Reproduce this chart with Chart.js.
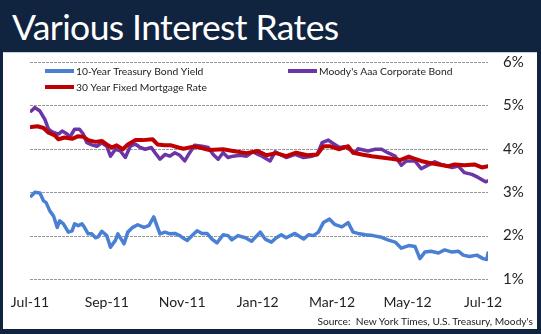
<!DOCTYPE html>
<html>
<head>
<meta charset="utf-8">
<script src="https://cdn.jsdelivr.net/npm/chart.js@4"></script>
<style>
  html, body { margin: 0; padding: 0; }
  body { width: 541px; height: 334px; background: #11243f; position: relative; overflow: hidden; font-family: Lato, "Open Sans", sans-serif; }
  .title { position: absolute; left: 12px; top: 5px; color: #fff; font-size: 35.5px; letter-spacing: -0.6px; white-space: nowrap; }
  .panel { position: absolute; left: 3px; top: 52px; width: 534px; height: 276px; background: #fff; border-top: 1px solid #c9d3e0; }
  .chart-box { position: absolute; left: 0; top: 0; width: 534px; height: 276px; }
  .source { position: absolute; right: 8px; top: 315px; font-size: 10.2px; color: #222; white-space: nowrap; }
</style>
</head>
<body>
<div class="title">Various Interest Rates</div>
<div class="panel">
  <div class="chart-box"><canvas id="chart"></canvas></div>
</div>
<div class="source">Source:&nbsp; New York Times, U.S. Treasury, Moody's</div>

<script>
// days since Jul 1, 2011
const monthTickDays = [0, 62, 123, 184, 244, 305, 366];
const monthTickLabels = ['Jul-11', 'Sep-11', 'Nov-11', 'Jan-12', 'Mar-12', 'May-12', 'Jul-12'];

const treasuryDays = [1, 4, 8, 11, 13, 16, 19, 22, 24, 27, 31, 34, 36, 39, 42, 44, 47, 50, 53, 55, 58, 62, 65, 69, 71, 76, 79, 83, 87, 92, 96, 100, 102, 105, 109, 113, 117, 121, 125, 127, 131, 135, 139, 143, 147, 151, 156, 160, 163, 168, 174, 179, 186, 190, 195, 199, 203, 207, 214, 221, 225, 229, 233, 237, 242, 246, 252, 257, 261, 265, 271, 277, 284, 289, 295, 300, 306, 311, 315, 319, 324, 330, 335, 341, 346, 350, 355, 361, 366, 369, 370];
const treasuryYield = [2.91, 3.00, 2.98, 2.80, 2.76, 2.57, 2.45, 2.19, 2.34, 2.27, 2.08, 2.11, 2.27, 2.23, 2.27, 2.19, 2.04, 2.04, 1.95, 1.97, 2.10, 2.00, 1.73, 1.89, 2.04, 1.81, 2.08, 2.19, 2.25, 2.19, 2.23, 2.43, 2.27, 2.04, 2.08, 2.04, 2.05, 2.00, 1.92, 1.89, 2.00, 2.11, 2.05, 2.05, 1.92, 1.83, 2.02, 2.00, 1.90, 2.00, 1.95, 1.87, 2.08, 1.92, 1.85, 1.95, 2.02, 1.95, 2.05, 1.92, 2.02, 2.00, 2.08, 2.30, 2.38, 2.26, 2.20, 2.30, 2.08, 2.05, 2.02, 2.00, 1.96, 1.90, 1.85, 1.71, 1.77, 1.75, 1.47, 1.62, 1.64, 1.60, 1.67, 1.62, 1.64, 1.55, 1.52, 1.55, 1.47, 1.45, 1.60];

const moodysDays = [1, 4, 8, 12, 15, 18, 23, 26, 30, 32, 36, 40, 43, 46, 50, 54, 58, 62, 65, 69, 73, 77, 81, 85, 89, 93, 98, 101, 105, 109, 113, 117, 121, 125, 129, 133, 139, 144, 148, 152, 156, 160, 164, 170, 175, 180, 186, 194, 198, 202, 207, 214, 221, 228, 232, 236, 241, 244, 250, 254, 263, 265, 273, 279, 284, 289, 295, 300, 304, 311, 316, 320, 327, 332, 341, 346, 351, 357, 362, 368, 370];
const moodysYield = [4.87, 4.95, 4.87, 4.68, 4.45, 4.39, 4.34, 4.41, 4.34, 4.26, 4.45, 4.45, 4.34, 4.14, 4.09, 4.06, 4.14, 4.06, 3.83, 3.99, 3.95, 3.80, 4.06, 4.11, 4.03, 3.99, 4.03, 3.91, 3.76, 3.87, 3.83, 3.91, 3.85, 3.72, 3.91, 4.08, 4.06, 4.03, 3.87, 3.76, 3.91, 3.80, 3.83, 3.85, 3.83, 3.93, 3.85, 3.72, 3.93, 3.87, 3.80, 3.87, 3.80, 3.83, 3.87, 4.14, 4.20, 4.14, 4.03, 4.05, 3.91, 4.00, 3.95, 3.99, 3.99, 3.91, 3.83, 3.62, 3.72, 3.72, 3.54, 3.60, 3.70, 3.64, 3.57, 3.60, 3.45, 3.41, 3.34, 3.24, 3.26];

const mortgageDays = [1, 6, 11, 15, 20, 23, 28, 34, 39, 43, 47, 53, 58, 62, 66, 70, 75, 79, 85, 91, 99, 103, 109, 114, 120, 124, 132, 137, 145, 156, 164, 175, 184, 191, 199, 207, 215, 224, 232, 237, 242, 250, 257, 261, 268, 276, 284, 292, 299, 306, 311, 316, 322, 330, 338, 343, 351, 359, 365, 370];
const mortgageRate = [4.50, 4.52, 4.48, 4.37, 4.31, 4.22, 4.26, 4.23, 4.29, 4.28, 4.20, 4.16, 4.18, 4.10, 4.03, 4.08, 3.99, 4.10, 4.20, 4.20, 4.22, 4.10, 4.08, 4.08, 4.03, 4.00, 4.05, 4.03, 3.97, 3.99, 3.95, 3.90, 3.95, 3.85, 3.90, 3.83, 3.91, 3.85, 3.87, 4.06, 4.06, 3.99, 4.06, 3.91, 3.87, 3.83, 3.80, 3.77, 3.74, 3.82, 3.77, 3.72, 3.68, 3.64, 3.60, 3.64, 3.62, 3.64, 3.57, 3.60];

const toPoints = (days, vals) => days.map((d, i) => ({ x: d, y: vals[i] }));

// dotted horizontal gridlines at the y scale ticks
const dottedGrid = {
  id: 'dottedGrid',
  beforeDatasetsDraw(chart) {
    const { ctx, chartArea, scales: { y } } = chart;
    ctx.save();
    ctx.strokeStyle = '#999999';
    ctx.lineWidth = 1.2;
    ctx.setLineDash([3, 1]);
    y.ticks.forEach(t => {
      const py = Math.round(y.getPixelForValue(t.value)) + 0.5;
      ctx.beginPath();
      ctx.moveTo(chartArea.left, py);
      ctx.lineTo(chartArea.right, py);
      ctx.stroke();
    });
    ctx.restore();
  }
};

// legend drawn inside the plot, Excel style
const innerLegend = {
  id: 'innerLegend',
  afterDraw(chart) {
    const ctx = chart.ctx;
    const spots = [
      { x: 42, y: 18 },
      { x: 285, y: 18 },
      { x: 42, y: 34 }
    ];
    ctx.save();
    ctx.font = '10.3px Lato, "Open Sans", sans-serif';
    ctx.textBaseline = 'middle';
    chart.data.datasets.forEach((ds, i) => {
      const s = spots[i];
      ctx.strokeStyle = ds.borderColor;
      ctx.lineWidth = 4;
      ctx.beginPath();
      ctx.moveTo(s.x, s.y);
      ctx.lineTo(s.x + 29, s.y);
      ctx.stroke();
      ctx.fillStyle = '#222';
      ctx.fillText(ds.label, s.x + 31, s.y + 1);
    });
    ctx.restore();
  }
};

new Chart(document.getElementById('chart'), {
  type: 'line',
  data: {
    datasets: [
      {
        label: '10-Year Treasury Bond Yield',
        data: toPoints(treasuryDays, treasuryYield),
        borderColor: '#4a80d3',
        borderWidth: 3.5,
        order: 1
      },
      {
        label: "Moody's Aaa Corporate Bond",
        data: toPoints(moodysDays, moodysYield),
        borderColor: '#6b35a6',
        borderWidth: 3.5,
        order: 2
      },
      {
        label: '30 Year Fixed Mortgage Rate',
        data: toPoints(mortgageDays, mortgageRate),
        borderColor: '#c00000',
        borderWidth: 4,
        order: 0
      }
    ]
  },
  options: {
    responsive: true,
    maintainAspectRatio: false,
    animation: false,
    layout: {
      padding: { left: 27, right: 12, top: 9, bottom: 4 }
    },
    elements: {
      point: { radius: 0 },
      line: { tension: 0, borderJoinStyle: 'round', borderCapStyle: 'round' }
    },
    plugins: {
      legend: { display: false },
      tooltip: { enabled: false }
    },
    scales: {
      x: {
        type: 'linear',
        min: 0,
        max: 370,
        grid: { display: false, drawTicks: false },
        border: { display: false },
        afterBuildTicks: (axis) => {
          axis.ticks = monthTickDays.map(v => ({ value: v }));
        },
        afterFit: (axis) => {
          axis.paddingLeft = 0;
          axis.paddingRight = 0;
        },
        ticks: {
          padding: 14.6,
          maxRotation: 0,
          autoSkip: false,
          color: '#222',
          font: { family: 'Lato, "Open Sans", sans-serif', size: 14 },
          callback: (v) => monthTickLabels[monthTickDays.indexOf(v)]
        }
      },
      y: {
        position: 'right',
        min: 1,
        max: 6,
        grid: { display: false, drawTicks: false },
        border: { display: false },
        afterFit: (axis) => {
          axis.width = 37;
          axis.paddingTop = 0;
          axis.paddingBottom = 0;
        },
        ticks: {
          stepSize: 1,
          padding: 15,
          color: '#222',
          font: { family: 'Lato, "Open Sans", sans-serif', size: 15 },
          callback: (v) => v + '%'
        }
      }
    }
  },
  plugins: [dottedGrid, innerLegend]
});
</script>
</body>
</html>
